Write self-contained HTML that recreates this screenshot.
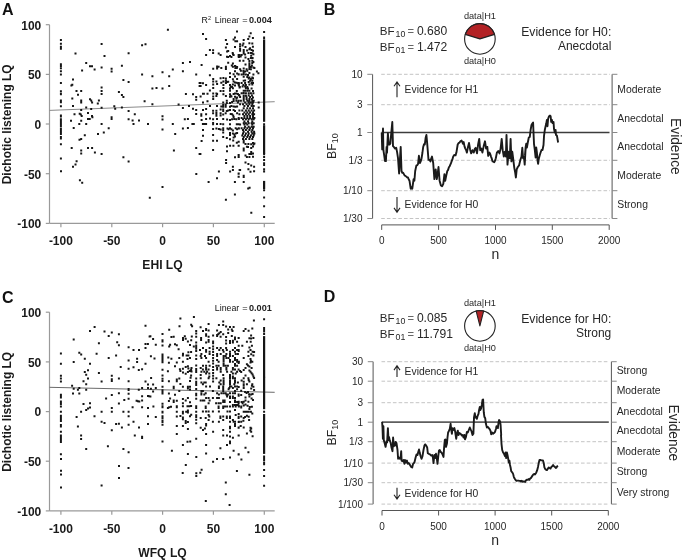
<!DOCTYPE html><html><head><meta charset="utf-8"><style>html,body{margin:0;padding:0;background:#fff;}svg{display:block;will-change:transform;filter:blur(0.3px);}</style></head><body><svg width="685" height="560" viewBox="0 0 685 560">
<rect width="685" height="560" fill="#fff"/>
<text x="2.0" y="15.1" font-size="16" font-weight="bold" fill="#111" font-family="Liberation Sans, sans-serif">A</text>
<line x1="49.5" y1="24.7" x2="49.5" y2="223.4" stroke="#9a9a9a" stroke-width="1.2"/>
<line x1="49.5" y1="223.4" x2="274.7" y2="223.4" stroke="#9a9a9a" stroke-width="1.2"/>
<line x1="45.8" y1="24.7" x2="49.5" y2="24.7" stroke="#9a9a9a" stroke-width="1.2"/>
<text x="41.3" y="29.6" font-size="12" font-weight="bold" text-anchor="end" fill="#1a1a1a" font-family="Liberation Sans, sans-serif">100</text>
<line x1="45.8" y1="74.4" x2="49.5" y2="74.4" stroke="#9a9a9a" stroke-width="1.2"/>
<text x="41.3" y="79.3" font-size="12" font-weight="bold" text-anchor="end" fill="#1a1a1a" font-family="Liberation Sans, sans-serif">50</text>
<line x1="45.8" y1="124.0" x2="49.5" y2="124.0" stroke="#9a9a9a" stroke-width="1.2"/>
<text x="41.3" y="128.9" font-size="12" font-weight="bold" text-anchor="end" fill="#1a1a1a" font-family="Liberation Sans, sans-serif">0</text>
<line x1="45.8" y1="173.7" x2="49.5" y2="173.7" stroke="#9a9a9a" stroke-width="1.2"/>
<text x="41.3" y="178.6" font-size="12" font-weight="bold" text-anchor="end" fill="#1a1a1a" font-family="Liberation Sans, sans-serif">-50</text>
<line x1="45.8" y1="223.4" x2="49.5" y2="223.4" stroke="#9a9a9a" stroke-width="1.2"/>
<text x="41.3" y="228.3" font-size="12" font-weight="bold" text-anchor="end" fill="#1a1a1a" font-family="Liberation Sans, sans-serif">-100</text>
<line x1="60.9" y1="223.4" x2="60.9" y2="227.2" stroke="#9a9a9a" stroke-width="1.2"/>
<text x="60.9" y="245.2" font-size="12" font-weight="bold" text-anchor="middle" fill="#1a1a1a" font-family="Liberation Sans, sans-serif">-100</text>
<line x1="111.8" y1="223.4" x2="111.8" y2="227.2" stroke="#9a9a9a" stroke-width="1.2"/>
<text x="111.8" y="245.2" font-size="12" font-weight="bold" text-anchor="middle" fill="#1a1a1a" font-family="Liberation Sans, sans-serif">-50</text>
<line x1="162.6" y1="223.4" x2="162.6" y2="227.2" stroke="#9a9a9a" stroke-width="1.2"/>
<text x="162.6" y="245.2" font-size="12" font-weight="bold" text-anchor="middle" fill="#1a1a1a" font-family="Liberation Sans, sans-serif">0</text>
<line x1="213.4" y1="223.4" x2="213.4" y2="227.2" stroke="#9a9a9a" stroke-width="1.2"/>
<text x="213.4" y="245.2" font-size="12" font-weight="bold" text-anchor="middle" fill="#1a1a1a" font-family="Liberation Sans, sans-serif">50</text>
<line x1="264.3" y1="223.4" x2="264.3" y2="227.2" stroke="#9a9a9a" stroke-width="1.2"/>
<text x="264.3" y="245.2" font-size="12" font-weight="bold" text-anchor="middle" fill="#1a1a1a" font-family="Liberation Sans, sans-serif">100</text>
<text x="162.5" y="268.7" font-size="12.1" font-weight="bold" text-anchor="middle" fill="#1a1a1a" font-family="Liberation Sans, sans-serif">EHI LQ</text>
<text transform="translate(10.8,124.3) rotate(-90)" font-size="12" font-weight="bold" text-anchor="middle" fill="#1a1a1a" font-family="Liberation Sans, sans-serif">Dichotic listening LQ</text>
<line x1="49.5" y1="110.4" x2="274.7" y2="101.7" stroke="#8a8a8a" stroke-width="1"/>
<path d="M59.9 40.0h2M59.9 43.7h2M59.9 46.8h2M59.9 48.8h2M74.5 53.5h2M85.2 62.9h2M89.0 66.2h2M91.0 66.2h2M59.9 64.2h2M59.9 66.0h2M59.9 68.2h2M93.6 69.5h2M100.6 43.9h2M103.5 56.1h2M100.6 67.5h2M110.6 68.7h2M120.9 65.8h2M127.6 53.2h2M141.1 45.2h2M144.5 44.3h2M166.9 29.8h2M181.9 62.9h2M189.0 62.0h2M171.8 69.4h2M59.9 71.3h2M59.9 74.5h2M81.1 70.5h2M72.0 79.5h2M59.9 83.0h2M70.4 85.4h2M71.3 84.7h2M59.9 91.2h2M59.9 93.7h2M59.9 94.3h2M75.5 91.1h2M80.2 91.1h2M77.0 94.8h2M71.3 98.4h2M59.9 100.4h2M59.9 102.3h2M80.2 100.5h2M80.2 102.6h2M89.0 99.2h2M90.2 100.4h2M91.1 102.6h2M97.9 100.4h2M96.8 103.5h2M59.9 106.2h2M72.0 106.1h2M85.2 107.5h2M90.2 108.9h2M80.2 110.0h2M59.9 115.5h2M59.9 116.4h2M73.5 114.2h2M78.7 113.8h2M79.8 114.6h2M80.7 116.0h2M87.0 112.9h2M91.0 116.0h2M91.4 117.3h2M87.0 118.9h2M88.7 119.1h2M59.9 119.3h2M110.6 71.6h2M141.1 74.5h2M122.4 80.0h2M127.6 82.0h2M100.6 87.6h2M100.6 91.0h2M100.6 93.9h2M117.9 92.0h2M120.9 95.0h2M122.4 97.0h2M143.6 101.2h2M100.6 107.7h2M113.3 106.2h2M114.2 108.8h2M120.9 107.5h2M127.6 111.1h2M133.8 114.2h2M110.6 117.3h2M110.6 118.9h2M127.6 119.3h2M161.5 72.2h2M181.9 71.3h2M195.2 74.5h2M151.4 76.2h2M168.2 76.2h2M198.6 83.0h2M198.6 86.1h2M151.4 88.5h2M155.5 88.0h2M161.5 88.5h2M168.2 85.9h2M184.9 93.9h2M192.0 94.3h2M195.2 97.0h2M195.2 99.7h2M151.4 104.2h2M177.6 104.4h2M188.0 106.0h2M181.9 108.1h2M192.0 108.8h2M195.2 109.9h2M195.2 114.1h2M161.5 116.2h2M161.5 119.5h2M183.8 119.3h2M186.9 118.9h2M70.0 120.7h2M80.2 120.7h2M59.9 120.5h2M59.9 122.2h2M59.9 123.8h2M59.9 125.2h2M59.9 126.2h2M59.9 128.8h2M59.9 129.4h2M59.9 131.4h2M59.9 133.4h2M59.9 134.0h2M59.9 137.0h2M59.9 137.9h2M59.9 138.5h2M59.9 144.3h2M59.9 158.6h2M78.3 124.0h2M85.2 124.0h2M72.7 128.0h2M97.0 134.0h2M83.8 135.2h2M78.5 139.8h2M80.2 138.9h2M70.7 147.9h2M87.0 147.9h2M91.1 147.9h2M80.2 150.4h2M80.2 153.5h2M93.9 152.6h2M75.6 161.2h2M74.5 164.6h2M72.0 166.7h2M131.6 120.5h2M138.0 120.5h2M100.6 124.0h2M132.5 124.0h2M147.0 124.0h2M107.7 128.2h2M102.8 132.5h2M100.6 153.9h2M122.4 157.3h2M127.6 161.5h2M171.8 124.0h2M191.4 124.0h2M192.8 124.0h2M161.5 129.4h2M181.9 128.5h2M186.9 128.0h2M174.2 134.0h2M172.9 150.4h2M195.2 147.9h2M198.6 153.9h2M60.0 171.3h2M78.9 180.2h2M81.2 182.8h2M148.8 197.7h2M161.5 186.9h2M195.3 173.9h2M202.0 34.1h2M205.1 39.1h2M236.0 31.4h2M234.0 37.5h2M232.6 39.4h2M234.4 41.3h2M236.1 41.3h2M224.9 40.0h2M226.1 43.9h2M224.9 47.5h2M234.0 46.9h2M208.9 49.9h2M212.1 50.2h2M212.1 52.9h2M205.1 55.0h2M217.7 53.6h2M219.6 55.1h2M226.1 51.4h2M227.2 50.9h2M231.7 52.9h2M232.0 54.3h2M232.6 54.9h2M226.0 56.8h2M227.2 57.0h2M229.0 56.1h2M230.4 57.1h2M237.6 55.0h2M237.9 57.1h2M263.1 32.0h2M263.1 38.0h2M249.7 33.2h2M248.4 36.6h2M247.2 38.9h2M251.9 38.0h2M242.7 40.0h2M239.1 44.3h2M239.0 46.4h2M239.1 48.9h2M239.1 50.7h2M242.4 43.4h2M241.6 45.4h2M248.4 43.2h2M251.3 43.6h2M244.5 47.1h2M251.9 46.8h2M249.1 48.2h2M248.4 49.3h2M246.1 50.4h2M242.7 50.0h2M242.7 51.8h2M242.7 53.6h2M250.6 50.0h2M252.0 50.7h2M247.4 52.9h2M249.9 52.9h2M251.3 53.2h2M252.4 54.3h2M244.1 54.6h2M238.4 55.0h2M237.6 56.4h2M240.6 55.0h2M239.7 56.4h2M244.5 57.5h2M250.2 55.7h2M249.9 57.9h2M251.6 57.9h2M247.4 58.9h2M200.6 64.9h2M227.2 62.7h2M231.9 63.6h2M230.8 65.4h2M231.9 66.8h2M234.0 66.1h2M235.1 66.8h2M236.1 67.1h2M234.4 67.9h2M235.8 67.9h2M216.1 66.6h2M217.6 66.8h2M216.1 68.6h2M220.3 68.0h2M212.2 68.7h2M224.9 66.8h2M224.9 67.9h2M224.9 69.1h2M234.0 71.3h2M229.0 73.2h2M232.6 74.3h2M236.1 73.6h2M237.6 74.6h2M208.9 75.2h2M229.0 77.0h2M234.0 76.4h2M212.2 78.9h2M219.6 78.2h2M222.4 77.9h2M224.9 78.6h2M231.9 79.3h2M236.1 78.9h2M212.2 81.4h2M215.4 81.4h2M220.3 82.7h2M222.4 81.4h2M224.9 80.7h2M225.8 82.1h2M227.2 81.8h2M224.9 82.9h2M232.6 81.4h2M234.0 82.5h2M235.4 82.7h2M236.9 83.2h2M237.9 83.6h2M199.6 82.9h2M202.0 83.2h2M199.6 86.1h2M205.1 85.1h2M216.1 83.9h2M212.2 84.6h2M222.4 85.1h2M229.0 85.1h2M231.9 84.6h2M234.0 85.4h2M237.9 85.4h2M229.7 86.4h2M231.1 87.1h2M212.2 87.9h2M222.4 87.9h2M231.9 88.2h2M229.0 88.6h2M238.6 87.5h2M208.9 90.4h2M219.6 90.9h2M222.4 90.9h2M229.0 90.7h2M235.8 90.9h2M202.0 93.7h2M202.9 93.7h2M206.5 93.7h2M212.2 93.6h2M215.4 93.6h2M216.1 94.1h2M222.4 94.3h2M229.0 94.3h2M229.7 95.7h2M232.6 94.1h2M234.0 93.6h2M235.4 93.6h2M236.9 94.1h2M237.9 95.0h2M199.6 96.6h2M212.2 96.6h2M215.4 96.1h2M224.9 96.1h2M229.0 96.8h2M230.4 96.4h2M234.0 96.8h2M236.1 97.5h2M212.2 98.9h2M232.6 98.9h2M235.4 98.6h2M238.8 60.7h2M242.4 60.7h2M248.4 61.1h2M251.3 60.7h2M248.4 63.2h2M251.3 62.9h2M252.4 62.1h2M244.5 64.6h2M248.4 65.0h2M250.9 65.4h2M248.4 67.1h2M249.9 67.1h2M252.4 67.5h2M253.4 67.9h2M239.1 69.3h2M242.7 68.6h2M245.6 69.3h2M248.4 68.9h2M249.9 69.3h2M239.9 70.7h2M242.4 71.1h2M244.1 71.4h2M246.3 70.7h2M255.9 71.4h2M242.7 72.5h2M248.4 72.9h2M257.4 73.2h2M237.7 74.3h2M240.6 74.6h2M242.7 74.3h2M244.9 74.6h2M247.0 75.0h2M252.4 74.6h2M242.7 76.8h2M246.3 77.1h2M248.4 77.5h2M251.3 77.5h2M247.7 78.6h2M249.9 78.9h2M252.0 78.2h2M242.7 80.7h2M244.1 80.4h2M249.1 80.7h2M251.3 80.7h2M237.7 82.9h2M240.6 82.9h2M244.1 82.9h2M247.7 82.1h2M250.6 82.9h2M252.0 82.9h2M237.7 84.6h2M242.4 85.0h2M244.9 85.0h2M248.4 84.6h2M251.3 84.6h2M238.8 87.1h2M241.6 86.4h2M244.1 86.4h2M246.3 87.1h2M244.9 88.2h2M247.0 88.6h2M250.6 88.6h2M242.7 90.7h2M244.1 90.7h2M246.3 90.7h2M248.4 90.7h2M252.0 91.1h2M240.6 93.2h2M242.7 92.9h2M244.9 93.2h2M247.7 93.2h2M249.9 93.2h2M252.4 93.2h2M238.4 95.4h2M242.7 95.4h2M244.9 95.7h2M247.7 95.4h2M250.9 95.4h2M239.1 97.1h2M242.7 97.1h2M245.6 97.5h2M249.1 97.1h2M252.0 97.5h2M242.7 98.9h2M245.6 98.9h2M248.4 98.9h2M250.9 98.9h2M202.0 102.5h2M206.5 101.3h2M222.2 102.5h2M225.8 100.7h2M225.8 102.9h2M229.0 102.9h2M231.1 102.1h2M232.6 101.1h2M235.4 100.7h2M236.9 102.5h2M209.0 106.1h2M216.0 106.1h2M220.3 106.4h2M222.2 105.0h2M222.2 106.8h2M224.7 105.0h2M224.7 106.8h2M229.0 106.8h2M230.4 106.1h2M232.6 106.4h2M234.4 106.8h2M236.1 106.4h2M202.0 109.9h2M205.1 108.9h2M212.1 110.7h2M215.4 110.7h2M219.6 109.6h2M222.2 109.6h2M222.2 111.1h2M225.8 111.1h2M227.2 110.4h2M229.0 110.0h2M232.6 110.0h2M234.0 111.1h2M212.1 113.2h2M215.4 112.9h2M215.4 114.3h2M215.4 115.7h2M205.1 114.3h2M200.3 114.3h2M200.3 115.7h2M219.6 113.2h2M219.6 115.4h2M222.2 114.6h2M224.7 113.2h2M229.7 113.9h2M231.1 114.3h2M232.2 115.4h2M232.6 117.1h2M236.1 113.2h2M205.1 118.9h2M209.0 118.4h2M200.6 120.1h2M212.1 119.3h2M216.0 118.9h2M222.2 118.9h2M226.1 119.6h2M229.0 120.0h2M231.1 119.3h2M233.3 118.9h2M235.4 119.3h2M237.9 118.9h2M201.9 123.9h2M203.3 123.9h2M205.1 123.9h2M212.1 122.9h2M212.1 124.3h2M216.0 123.9h2M219.6 123.9h2M222.2 124.3h2M229.0 124.3h2M235.8 124.3h2M237.6 124.3h2M212.1 128.9h2M215.4 128.6h2M217.9 128.9h2M219.6 129.6h2M222.2 128.2h2M222.2 130.0h2M226.5 128.6h2M227.6 129.3h2M229.0 128.2h2M230.4 129.3h2M231.9 130.4h2M234.7 128.2h2M236.1 129.3h2M237.9 128.6h2M202.0 129.9h2M222.2 132.5h2M229.0 132.9h2M229.0 135.0h2M231.9 133.6h2M233.3 134.6h2M234.7 133.6h2M236.1 132.9h2M202.0 135.7h2M212.1 135.1h2M222.2 137.1h2M225.8 138.0h2M229.0 139.3h2M232.6 137.5h2M234.0 136.4h2M237.7 100.7h2M239.9 100.7h2M242.7 100.7h2M246.3 100.7h2M248.4 100.7h2M251.3 100.7h2M252.7 100.7h2M244.1 102.5h2M247.7 102.5h2M249.9 102.5h2M252.0 102.5h2M257.7 102.5h2M239.1 104.3h2M242.0 104.3h2M245.6 104.3h2M248.4 104.3h2M251.3 104.3h2M243.4 106.1h2M247.0 106.1h2M250.6 106.1h2M252.7 106.1h2M257.7 107.5h2M242.7 108.2h2M246.3 108.2h2M249.1 108.2h2M252.0 108.2h2M238.4 110.4h2M241.3 110.4h2M244.9 110.4h2M247.7 110.4h2M250.6 110.4h2M253.1 110.4h2M243.4 112.5h2M246.3 112.5h2M249.1 112.5h2M252.0 112.5h2M238.4 114.3h2M242.0 114.3h2M244.9 114.3h2M247.7 114.3h2M251.3 114.3h2M253.1 114.3h2M243.4 116.1h2M246.3 116.1h2M249.1 116.1h2M252.0 116.1h2M237.7 117.9h2M240.6 117.9h2M243.4 117.9h2M246.3 117.9h2M249.1 117.9h2M252.0 117.9h2M253.4 117.9h2M242.0 119.3h2M244.9 119.3h2M247.7 119.3h2M250.6 119.3h2M252.7 119.3h2M243.4 121.4h2M247.0 121.4h2M251.3 121.4h2M242.7 123.2h2M244.9 123.2h2M247.7 123.2h2M250.6 123.2h2M252.7 123.2h2M239.1 124.6h2M243.4 124.6h2M246.3 124.6h2M251.3 124.6h2M244.1 126.8h2M247.7 126.8h2M250.6 126.8h2M252.7 126.8h2M237.7 128.2h2M240.6 128.2h2M243.4 128.2h2M246.3 128.2h2M249.1 128.2h2M252.0 128.2h2M242.0 130.0h2M244.9 130.0h2M248.4 130.0h2M251.3 130.0h2M242.7 131.8h2M247.0 131.8h2M250.6 131.8h2M253.1 131.8h2M242.0 133.6h2M244.9 133.6h2M247.7 133.6h2M251.3 133.6h2M253.4 133.6h2M241.3 135.4h2M244.1 135.4h2M247.0 135.4h2M249.9 135.4h2M252.7 135.4h2M242.7 137.1h2M246.3 137.1h2M249.1 137.1h2M252.0 137.1h2M242.0 138.9h2M244.9 138.9h2M248.4 138.9h2M251.3 138.9h2M200.6 141.1h2M212.1 140.7h2M216.0 140.7h2M232.2 140.4h2M235.8 142.7h2M237.6 141.8h2M226.0 146.4h2M229.1 145.7h2M232.4 145.7h2M237.6 145.7h2M212.1 149.9h2M226.0 151.2h2M199.4 153.9h2M237.6 155.0h2M237.6 157.1h2M234.0 157.3h2M225.1 159.9h2M225.1 163.0h2M231.9 166.8h2M231.9 169.9h2M217.9 171.6h2M229.1 171.6h2M238.6 170.0h2M237.6 173.7h2M237.6 176.8h2M216.0 178.2h2M237.7 141.8h2M237.7 145.7h2M242.7 140.4h2M242.7 142.5h2M244.5 143.9h2M247.4 143.9h2M250.2 144.3h2M252.0 142.9h2M252.7 144.3h2M253.4 143.6h2M245.9 146.8h2M247.0 147.1h2M250.2 147.9h2M252.0 146.4h2M242.7 148.6h2M242.7 150.4h2M248.4 153.9h2M250.2 152.1h2M250.2 153.9h2M252.0 153.6h2M237.7 155.0h2M237.7 157.1h2M244.5 155.4h2M245.9 157.1h2M248.4 157.1h2M252.0 156.8h2M244.5 162.5h2M247.4 163.9h2M250.2 165.6h2M253.1 166.8h2M239.1 170.0h2M247.4 169.3h2M249.5 171.8h2M253.1 171.3h2M237.7 173.6h2M237.7 176.8h2M242.7 175.7h2M242.7 177.1h2M207.6 182.1h2M233.9 181.9h2M233.9 194.6h2M224.9 199.7h2M242.7 181.9h2M247.2 188.6h2M248.6 187.8h2M250.3 212.8h2M263.1 32.0h2M263.1 37.6h2M263.1 124.3h2M263.1 154.3h2M263.1 157.1h2M263.1 160.0h2M263.1 163.2h2M263.1 165.0h2M263.1 169.3h2M263.1 171.4h2M263.1 190.2h2M263.1 197.6h2M263.1 206.3h2M263.1 216.9h2" stroke="#151515" stroke-width="2" fill="none"/>
<rect x="263.0" y="39.4" width="2.2" height="82.4" fill="#151515"/>
<rect x="263.0" y="125.2" width="2.2" height="28.8" fill="#151515"/>
<rect x="263.0" y="180.9" width="2.2" height="8.1" fill="#151515"/>
<text x="201.4" y="23.4" font-size="8.8" fill="#111" font-family="Liberation Sans, sans-serif">R</text><text x="208.1" y="19.6" font-size="5.6" fill="#222" font-family="Liberation Sans, sans-serif">2</text><text x="214.8" y="23.4" font-size="8.8" fill="#111" font-family="Liberation Sans, sans-serif">Linear</text><text x="242.3" y="23.4" font-size="9.2" fill="#111" font-family="Liberation Sans, sans-serif">=</text><text x="271.8" y="23.4" font-size="9.1" font-weight="bold" text-anchor="end" fill="#222" font-family="Liberation Sans, sans-serif">0.004</text>
<text x="2.0" y="302.6" font-size="16" font-weight="bold" fill="#111" font-family="Liberation Sans, sans-serif">C</text>
<line x1="49.5" y1="312.2" x2="49.5" y2="510.9" stroke="#9a9a9a" stroke-width="1.2"/>
<line x1="49.5" y1="510.9" x2="274.7" y2="510.9" stroke="#9a9a9a" stroke-width="1.2"/>
<line x1="45.8" y1="312.2" x2="49.5" y2="312.2" stroke="#9a9a9a" stroke-width="1.2"/>
<text x="41.3" y="317.1" font-size="12" font-weight="bold" text-anchor="end" fill="#1a1a1a" font-family="Liberation Sans, sans-serif">100</text>
<line x1="45.8" y1="361.9" x2="49.5" y2="361.9" stroke="#9a9a9a" stroke-width="1.2"/>
<text x="41.3" y="366.8" font-size="12" font-weight="bold" text-anchor="end" fill="#1a1a1a" font-family="Liberation Sans, sans-serif">50</text>
<line x1="45.8" y1="411.6" x2="49.5" y2="411.6" stroke="#9a9a9a" stroke-width="1.2"/>
<text x="41.3" y="416.4" font-size="12" font-weight="bold" text-anchor="end" fill="#1a1a1a" font-family="Liberation Sans, sans-serif">0</text>
<line x1="45.8" y1="461.2" x2="49.5" y2="461.2" stroke="#9a9a9a" stroke-width="1.2"/>
<text x="41.3" y="466.1" font-size="12" font-weight="bold" text-anchor="end" fill="#1a1a1a" font-family="Liberation Sans, sans-serif">-50</text>
<line x1="45.8" y1="510.9" x2="49.5" y2="510.9" stroke="#9a9a9a" stroke-width="1.2"/>
<text x="41.3" y="515.8" font-size="12" font-weight="bold" text-anchor="end" fill="#1a1a1a" font-family="Liberation Sans, sans-serif">-100</text>
<line x1="60.9" y1="510.9" x2="60.9" y2="514.7" stroke="#9a9a9a" stroke-width="1.2"/>
<text x="60.9" y="532.7" font-size="12" font-weight="bold" text-anchor="middle" fill="#1a1a1a" font-family="Liberation Sans, sans-serif">-100</text>
<line x1="111.8" y1="510.9" x2="111.8" y2="514.7" stroke="#9a9a9a" stroke-width="1.2"/>
<text x="111.8" y="532.7" font-size="12" font-weight="bold" text-anchor="middle" fill="#1a1a1a" font-family="Liberation Sans, sans-serif">-50</text>
<line x1="162.6" y1="510.9" x2="162.6" y2="514.7" stroke="#9a9a9a" stroke-width="1.2"/>
<text x="162.6" y="532.7" font-size="12" font-weight="bold" text-anchor="middle" fill="#1a1a1a" font-family="Liberation Sans, sans-serif">0</text>
<line x1="213.4" y1="510.9" x2="213.4" y2="514.7" stroke="#9a9a9a" stroke-width="1.2"/>
<text x="213.4" y="532.7" font-size="12" font-weight="bold" text-anchor="middle" fill="#1a1a1a" font-family="Liberation Sans, sans-serif">50</text>
<line x1="264.3" y1="510.9" x2="264.3" y2="514.7" stroke="#9a9a9a" stroke-width="1.2"/>
<text x="264.3" y="532.7" font-size="12" font-weight="bold" text-anchor="middle" fill="#1a1a1a" font-family="Liberation Sans, sans-serif">100</text>
<text x="162.5" y="556.8" font-size="12.1" font-weight="bold" text-anchor="middle" fill="#1a1a1a" font-family="Liberation Sans, sans-serif">WFQ LQ</text>
<text transform="translate(10.8,411.8) rotate(-90)" font-size="12" font-weight="bold" text-anchor="middle" fill="#1a1a1a" font-family="Liberation Sans, sans-serif">Dichotic listening LQ</text>
<line x1="49.5" y1="387.3" x2="274.7" y2="392.3" stroke="#6a6a6a" stroke-width="1"/>
<path d="M93.6 327.1h2M89.0 330.9h2M72.7 339.4h2M97.9 343.2h2M59.9 353.5h2M78.3 352.8h2M80.2 354.4h2M95.6 353.7h2M144.5 325.7h2M103.5 331.5h2M110.8 332.4h2M107.7 336.1h2M117.9 334.2h2M148.6 336.4h2M116.2 342.3h2M117.9 345.2h2M127.6 347.2h2M132.5 350.1h2M138.0 349.9h2M144.5 348.1h2M144.5 344.0h2M146.9 344.0h2M179.4 318.6h2M192.9 316.9h2M178.5 326.2h2M190.2 324.8h2M191.1 326.2h2M168.2 329.7h2M161.5 334.0h2M149.4 336.2h2M152.1 338.9h2M170.4 337.1h2M172.7 336.7h2M182.0 337.9h2M182.0 340.1h2M183.8 336.2h2M184.7 338.8h2M186.9 341.6h2M190.8 336.4h2M190.2 340.3h2M195.2 331.1h2M195.2 333.6h2M195.2 336.7h2M195.2 342.5h2M161.5 340.3h2M161.5 341.6h2M154.8 344.7h2M161.5 345.6h2M168.2 346.5h2M169.1 344.7h2M174.0 344.3h2M175.8 345.2h2M177.6 349.2h2M189.0 345.0h2M192.8 346.5h2M195.2 345.6h2M195.2 347.4h2M195.2 348.8h2M195.2 351.0h2M182.0 353.7h2M187.4 352.3h2M190.1 351.9h2M161.5 354.6h2M222.2 321.4h2M207.6 323.9h2M217.9 325.1h2M222.2 325.1h2M225.1 326.4h2M199.6 327.3h2M202.0 331.1h2M205.1 328.9h2M205.1 330.1h2M207.6 330.4h2M216.1 330.6h2M219.7 332.1h2M218.3 333.2h2M217.2 334.3h2M216.1 335.0h2M216.1 336.1h2M222.2 334.3h2M219.6 336.8h2M229.0 327.1h2M232.6 327.1h2M227.2 329.6h2M230.8 329.6h2M231.5 331.1h2M227.2 332.9h2M205.1 334.3h2M205.1 335.7h2M207.6 336.8h2M212.1 335.6h2M225.1 337.1h2M230.8 336.1h2M234.0 337.5h2M237.6 337.9h2M200.1 337.9h2M200.1 340.0h2M207.6 340.0h2M207.6 341.8h2M205.1 342.5h2M212.1 341.4h2M212.1 343.2h2M225.1 340.6h2M225.1 343.6h2M229.0 341.1h2M229.0 342.9h2M231.9 340.7h2M231.9 342.5h2M234.0 339.3h2M236.1 341.8h2M252.9 320.6h2M251.3 328.6h2M242.7 330.9h2M244.5 328.9h2M247.6 330.7h2M250.1 335.4h2M248.4 338.2h2M250.1 338.4h2M252.4 338.0h2M237.7 337.9h2M245.9 341.8h2M249.7 341.8h2M83.8 358.8h2M72.7 361.9h2M59.9 363.7h2M89.0 363.7h2M87.0 370.2h2M83.8 372.0h2M85.2 374.8h2M87.0 378.4h2M97.9 372.9h2M59.9 375.7h2M59.9 378.4h2M59.9 381.6h2M82.5 381.3h2M85.2 384.3h2M71.1 385.8h2M72.7 388.7h2M76.9 389.8h2M78.3 387.9h2M85.2 389.8h2M72.0 393.6h2M78.3 393.6h2M59.9 394.7h2M59.9 396.1h2M59.9 397.4h2M59.9 401.4h2M59.9 402.8h2M59.9 403.9h2M82.5 403.9h2M89.0 403.2h2M115.1 355.4h2M107.7 357.9h2M127.6 360.4h2M136.1 358.8h2M136.1 362.1h2M144.5 363.8h2M119.7 366.9h2M127.6 368.8h2M132.5 367.3h2M137.8 370.0h2M141.1 369.3h2M110.8 375.8h2M110.8 379.3h2M110.8 380.9h2M117.9 378.4h2M100.6 381.6h2M127.6 381.3h2M144.5 381.6h2M147.0 384.5h2M127.6 388.9h2M127.6 390.0h2M137.8 389.8h2M141.1 387.9h2M147.0 387.9h2M110.8 395.0h2M117.9 393.2h2M127.6 393.7h2M105.1 398.6h2M123.3 399.9h2M127.6 398.8h2M141.1 396.2h2M141.1 400.4h2M147.0 395.9h2M148.1 396.2h2M135.6 400.7h2M136.9 401.2h2M138.3 401.4h2M117.9 403.4h2M149.9 356.3h2M153.5 358.4h2M161.5 355.9h2M161.5 357.2h2M161.5 358.6h2M161.5 359.9h2M161.5 361.2h2M161.5 362.3h2M167.3 357.5h2M170.4 358.8h2M178.3 358.1h2M181.9 355.4h2M185.6 355.4h2M187.4 355.4h2M186.5 359.0h2M189.0 357.9h2M195.2 359.0h2M195.2 355.4h2M167.9 362.8h2M175.8 362.6h2M181.9 361.7h2M174.0 366.3h2M195.2 365.4h2M161.5 369.7h2M166.9 371.2h2M178.9 369.3h2M179.4 371.1h2M181.9 368.8h2M184.7 367.1h2M186.9 366.2h2M187.4 368.4h2M190.5 367.9h2M190.1 369.7h2M182.0 372.4h2M184.7 373.8h2M186.9 372.0h2M188.7 371.1h2M190.5 371.5h2M195.2 369.1h2M195.2 370.6h2M195.2 372.0h2M161.5 375.4h2M161.5 378.7h2M161.5 380.9h2M150.1 378.0h2M167.9 381.3h2M175.8 379.6h2M175.8 381.3h2M178.3 378.4h2M190.1 375.5h2M189.6 377.8h2M189.0 380.9h2M195.2 378.4h2M195.2 381.8h2M195.2 383.1h2M195.2 384.9h2M152.1 384.5h2M179.4 384.0h2M181.9 386.7h2M161.5 386.7h2M172.7 386.7h2M172.7 388.2h2M186.9 386.7h2M189.0 386.7h2M186.9 388.5h2M149.9 388.8h2M154.8 387.9h2M152.1 391.4h2M161.5 390.3h2M161.5 391.6h2M161.5 393.4h2M178.3 391.0h2M189.0 389.6h2M195.2 388.9h2M167.9 393.6h2M174.0 394.7h2M195.2 393.8h2M195.2 395.2h2M149.4 396.5h2M169.1 398.5h2M167.9 401.0h2M172.7 400.5h2M172.7 401.9h2M175.8 400.7h2M181.9 398.9h2M184.7 400.5h2M186.9 398.0h2M181.9 403.2h2M189.0 402.3h2M195.2 398.8h2M161.5 403.7h2M202.0 347.9h2M208.6 347.9h2M216.1 347.9h2M219.7 347.9h2M225.1 347.9h2M234.0 347.9h2M199.0 350.0h2M205.1 350.0h2M218.3 350.0h2M221.9 350.0h2M225.8 350.0h2M231.9 350.0h2M236.1 350.0h2M205.1 351.8h2M208.6 351.8h2M222.6 351.8h2M229.0 351.8h2M234.0 351.8h2M200.4 353.9h2M208.6 353.9h2M216.1 353.9h2M219.7 353.9h2M225.4 353.9h2M229.0 353.9h2M234.7 353.9h2M236.9 353.9h2M199.7 356.1h2M204.0 356.1h2M216.1 356.1h2M222.6 356.1h2M224.7 356.1h2M229.0 356.1h2M231.9 356.1h2M200.4 357.9h2M205.1 357.9h2M222.6 357.9h2M225.4 357.9h2M227.6 357.9h2M234.0 357.9h2M216.1 360.0h2M222.6 360.0h2M229.0 360.0h2M234.0 360.0h2M236.1 360.0h2M207.6 361.8h2M217.6 361.8h2M222.6 361.8h2M229.0 361.8h2M231.9 361.8h2M236.1 361.8h2M237.9 361.8h2M222.6 363.9h2M234.0 363.9h2M202.0 365.7h2M205.1 365.7h2M208.6 365.7h2M215.4 365.7h2M217.6 365.7h2M222.6 365.7h2M224.7 365.7h2M226.9 365.7h2M234.0 365.7h2M236.1 365.7h2M199.7 367.9h2M205.1 367.9h2M216.1 367.9h2M219.7 367.9h2M225.4 367.9h2M231.9 367.9h2M201.9 369.6h2M205.1 369.6h2M207.6 369.6h2M216.1 369.6h2M219.7 369.6h2M225.4 369.6h2M231.9 369.6h2M234.0 369.6h2M237.6 369.6h2M200.4 371.8h2M203.3 371.8h2M206.1 371.8h2M219.7 371.8h2M226.1 371.8h2M230.4 371.8h2M236.1 371.8h2M205.1 373.6h2M208.3 373.6h2M231.9 373.6h2M234.7 373.6h2M199.7 375.0h2M222.2 375.0h2M229.0 375.0h2M208.3 376.4h2M229.0 376.4h2M231.9 376.4h2M199.7 378.2h2M207.6 378.2h2M215.4 378.2h2M222.6 378.2h2M229.0 378.2h2M231.9 378.2h2M234.0 378.2h2M219.7 380.4h2M222.6 380.4h2M229.0 380.4h2M234.0 380.4h2M200.4 382.5h2M203.3 382.5h2M204.7 382.5h2M218.3 382.5h2M222.6 382.5h2M229.0 382.5h2M234.0 382.5h2M236.9 382.5h2M201.9 384.3h2M219.7 384.3h2M222.6 384.3h2M229.0 384.3h2M233.3 384.3h2M212.1 346.4h2M212.1 349.3h2M212.1 352.1h2M212.1 355.0h2M212.1 357.9h2M212.1 360.7h2M212.1 363.6h2M212.1 367.1h2M212.1 370.0h2M212.1 372.9h2M212.1 375.7h2M212.1 378.6h2M212.1 381.4h2M237.7 345.7h2M241.3 345.7h2M250.9 345.7h2M248.4 347.5h2M237.7 350.0h2M237.7 351.1h2M249.5 350.0h2M247.4 351.8h2M251.6 351.8h2M253.1 352.1h2M250.2 354.3h2M252.4 355.4h2M247.4 356.1h2M242.7 357.9h2M249.5 358.9h2M249.9 360.7h2M251.3 361.8h2M249.5 362.5h2M237.7 362.9h2M245.9 364.3h2M247.0 365.4h2M248.4 366.4h2M250.6 367.9h2M244.5 367.9h2M242.7 370.0h2M239.1 371.1h2M240.2 372.1h2M248.4 370.4h2M249.5 371.8h2M250.6 373.2h2M251.6 374.6h2M252.4 376.4h2M253.1 377.9h2M244.5 375.4h2M242.7 378.2h2M247.4 378.2h2M240.6 380.4h2M242.7 381.8h2M247.7 380.0h2M248.4 381.4h2M242.7 384.3h2M245.9 384.3h2M251.3 384.3h2M205.1 386.4h2M209.0 386.4h2M217.9 386.4h2M222.2 386.4h2M229.0 386.4h2M230.4 386.4h2M234.0 386.4h2M236.1 386.4h2M217.9 387.9h2M222.2 387.9h2M228.3 387.9h2M231.9 387.9h2M222.2 389.3h2M227.6 389.3h2M236.1 389.3h2M200.4 391.1h2M201.9 391.1h2M211.9 391.1h2M222.2 391.1h2M234.0 391.1h2M200.4 393.2h2M204.7 393.2h2M216.1 393.2h2M220.4 393.2h2M222.6 393.2h2M224.7 393.2h2M229.0 393.2h2M231.9 393.2h2M234.0 393.2h2M200.4 394.6h2M203.3 394.6h2M217.9 394.6h2M225.4 394.6h2M226.9 394.6h2M237.6 394.6h2M226.1 396.4h2M229.0 396.4h2M231.9 396.4h2M205.1 397.9h2M207.6 397.9h2M211.9 397.9h2M216.1 397.9h2M217.9 397.9h2M229.0 397.9h2M231.9 397.9h2M234.0 397.9h2M199.7 400.4h2M201.9 400.4h2M203.3 400.4h2M208.6 400.4h2M222.2 400.4h2M223.6 400.4h2M234.0 400.4h2M222.2 402.1h2M223.6 402.1h2M229.0 402.1h2M234.0 402.1h2M236.1 402.1h2M207.6 403.2h2M215.1 403.2h2M217.6 403.2h2M219.7 403.2h2M237.6 403.2h2M231.9 405.0h2M234.0 405.0h2M235.4 405.0h2M236.9 405.0h2M204.7 406.4h2M217.6 406.4h2M222.2 406.4h2M224.0 406.4h2M226.1 406.4h2M229.0 406.4h2M231.9 406.4h2M234.7 406.4h2M237.9 406.4h2M204.7 407.9h2M217.6 407.9h2M222.2 407.9h2M234.0 410.0h2M201.9 411.4h2M205.1 411.4h2M207.6 411.4h2M211.9 411.4h2M217.9 411.4h2M226.5 411.4h2M229.0 411.4h2M237.6 413.9h2M207.6 415.0h2M234.7 415.0h2M208.3 416.4h2M219.4 416.4h2M222.2 416.4h2M225.8 416.4h2M229.0 416.4h2M199.7 417.9h2M204.7 417.9h2M219.4 417.9h2M225.8 417.9h2M229.0 417.9h2M237.6 417.9h2M207.6 420.0h2M222.2 420.0h2M231.9 420.0h2M211.9 421.8h2M217.9 421.8h2M229.0 421.8h2M232.6 421.8h2M234.0 421.8h2M237.9 421.8h2M205.1 423.9h2M234.0 423.9h2M237.7 387.1h2M242.7 385.7h2M242.7 387.9h2M250.9 385.7h2M252.4 386.8h2M250.2 388.6h2M253.1 390.0h2M240.2 390.7h2M244.1 392.1h2M245.6 392.9h2M247.0 392.1h2M248.1 394.3h2M248.4 396.4h2M251.6 393.9h2M250.2 394.6h2M237.7 395.7h2M240.2 395.0h2M244.5 397.5h2M250.6 398.6h2M252.0 400.0h2M237.7 401.8h2M240.6 402.1h2M241.6 403.2h2M244.5 400.4h2M247.4 401.8h2M242.7 401.8h2M237.7 405.7h2M240.2 406.4h2M240.2 407.5h2M242.7 405.4h2M244.5 404.6h2M246.6 405.7h2M248.8 407.1h2M250.9 406.8h2M248.4 408.9h2M242.7 411.8h2M244.5 411.8h2M246.3 411.8h2M247.7 411.8h2M249.9 411.8h2M251.3 413.6h2M237.7 414.3h2M237.7 417.1h2M240.2 416.4h2M242.7 417.9h2M244.1 417.1h2M245.9 415.7h2M247.7 416.8h2M248.1 420.0h2M237.7 422.1h2M240.2 421.8h2M242.4 420.7h2M59.9 406.5h2M59.9 411.7h2M59.9 415.7h2M59.9 417.1h2M59.9 418.4h2M59.9 419.7h2M59.9 421.1h2M59.9 425.1h2M59.9 426.4h2M59.9 431.8h2M59.9 435.4h2M59.9 437.6h2M59.9 439.4h2M59.9 440.7h2M59.9 442.1h2M59.9 454.3h2M85.2 409.9h2M87.0 408.6h2M89.0 407.5h2M80.1 411.7h2M75.6 416.9h2M93.5 416.2h2M76.9 426.6h2M80.1 435.5h2M80.1 438.9h2M85.2 449.0h2M110.8 407.9h2M131.6 407.2h2M141.1 407.2h2M147.0 408.1h2M100.6 411.7h2M110.8 411.7h2M122.4 411.7h2M127.6 411.7h2M127.6 416.2h2M147.0 416.2h2M100.6 421.7h2M103.5 422.9h2M115.1 423.9h2M117.9 423.8h2M127.6 424.8h2M132.5 421.7h2M147.0 424.0h2M120.9 427.5h2M138.0 427.5h2M110.8 430.2h2M133.8 435.5h2M141.1 436.7h2M141.1 437.9h2M106.9 446.2h2M122.4 449.0h2M127.6 452.3h2M152.4 406.6h2M161.5 406.3h2M161.5 407.2h2M166.9 408.1h2M168.2 407.2h2M170.0 406.8h2M175.8 406.3h2M175.8 407.2h2M181.9 406.3h2M186.5 406.3h2M188.3 406.3h2M190.1 405.9h2M195.2 406.3h2M195.2 408.1h2M161.5 411.7h2M161.5 412.6h2M175.8 411.7h2M181.9 411.7h2M181.9 413.5h2M185.2 411.7h2M186.9 410.4h2M186.9 412.6h2M195.2 411.7h2M154.8 416.9h2M161.5 416.2h2M161.5 417.5h2M161.5 418.4h2M161.5 421.1h2M161.5 422.0h2M161.5 424.8h2M175.8 416.4h2M179.4 415.9h2M181.9 417.5h2M181.9 419.3h2M189.0 416.2h2M190.2 414.8h2M195.2 415.3h2M195.2 417.1h2M195.2 419.7h2M195.2 423.3h2M184.7 421.1h2M184.7 422.9h2M186.9 422.0h2M175.8 426.0h2M181.9 426.0h2M186.9 429.1h2M175.8 434.0h2M195.2 438.8h2M161.5 441.6h2M186.5 441.8h2M189.2 441.6h2M181.9 445.0h2M170.9 450.8h2M186.9 454.1h2M199.7 427.7h2M202.0 429.9h2M203.9 428.4h2M205.1 425.4h2M234.0 425.9h2M229.0 426.8h2M229.0 428.2h2M237.6 427.7h2M222.2 429.9h2M212.1 431.8h2M229.0 431.8h2M205.1 433.9h2M222.2 435.5h2M226.0 435.5h2M229.0 436.6h2M231.9 437.7h2M237.6 435.5h2M229.0 441.6h2M229.0 443.2h2M226.0 445.0h2M205.1 445.0h2M219.4 448.2h2M232.6 450.7h2M205.1 453.4h2M237.6 454.4h2M229.0 457.6h2M216.0 458.9h2M222.2 458.9h2M212.1 461.8h2M237.7 427.5h2M239.7 426.1h2M242.7 427.5h2M249.5 427.7h2M250.2 428.4h2M249.3 430.6h2M250.2 431.8h2M245.9 433.4h2M237.7 435.6h2M251.6 436.3h2M244.5 447.7h2M247.4 452.3h2M237.7 454.3h2M240.4 459.5h2M60.0 459.1h2M60.0 470.8h2M60.0 474.6h2M60.0 487.6h2M100.6 485.6h2M118.0 466.0h2M127.5 468.0h2M118.0 477.9h2M195.3 457.0h2M184.8 464.9h2M181.7 473.1h2M195.3 473.3h2M195.3 475.9h2M199.3 472.8h2M200.6 469.8h2M204.8 501.0h2M224.8 482.5h2M224.8 494.2h2M228.6 504.9h2M235.9 470.9h2M248.4 474.7h2M263.1 319.3h2M263.1 327.9h2M263.1 329.6h2M263.1 331.4h2M263.1 333.9h2M263.1 411.8h2M263.1 456.4h2M263.1 458.5h2M263.1 460.5h2M263.1 462.9h2M263.1 464.2h2M263.1 470.0h2M263.1 475.9h2M263.1 485.7h2" stroke="#151515" stroke-width="2" fill="none"/>
<rect x="263.0" y="336.1" width="2.2" height="41.3" fill="#151515"/>
<rect x="263.0" y="376.9" width="2.2" height="32.3" fill="#151515"/>
<rect x="263.0" y="414.0" width="2.2" height="39.9" fill="#151515"/>
<text x="214.8" y="310.7" font-size="8.8" fill="#111" font-family="Liberation Sans, sans-serif">Linear</text><text x="242.3" y="310.7" font-size="9.2" fill="#111" font-family="Liberation Sans, sans-serif">=</text><text x="271.8" y="310.7" font-size="9.1" font-weight="bold" text-anchor="end" fill="#222" font-family="Liberation Sans, sans-serif">0.001</text>
<text x="323.7" y="15.1" font-size="16" font-weight="bold" fill="#111" font-family="Liberation Sans, sans-serif">B</text>
<text x="379.8" y="34.6" font-size="11.6" fill="#272727" font-family="Liberation Sans, sans-serif">BF</text>
<text x="395.5" y="36.6" font-size="8.8" fill="#272727" font-family="Liberation Sans, sans-serif">10</text>
<text x="407.5" y="34.6" font-size="11.2" fill="#666" font-family="Liberation Sans, sans-serif">=</text>
<text x="416.9" y="34.6" font-size="12.1" fill="#272727" font-family="Liberation Sans, sans-serif">0.680</text>
<text x="379.8" y="50.9" font-size="11.6" fill="#272727" font-family="Liberation Sans, sans-serif">BF</text>
<text x="395.5" y="52.9" font-size="8.8" fill="#272727" font-family="Liberation Sans, sans-serif">01</text>
<text x="407.5" y="50.9" font-size="11.2" fill="#666" font-family="Liberation Sans, sans-serif">=</text>
<text x="416.9" y="50.9" font-size="12.1" fill="#272727" font-family="Liberation Sans, sans-serif">1.472</text>
<circle cx="479.9" cy="38.90" r="15.3" fill="#fff" stroke="#222" stroke-width="1.1"/>
<path d="M479.9 38.90L465.28 34.39A15.3 15.3 0 0 1 494.52 34.39Z" fill="#b32225" stroke="#222" stroke-width="1.1" stroke-linejoin="round"/>
<text x="479.9" y="18.6" font-size="9.2" text-anchor="middle" fill="#272727" font-family="Liberation Sans, sans-serif">data|H1</text>
<text x="479.9" y="63.8" font-size="9.2" text-anchor="middle" fill="#272727" font-family="Liberation Sans, sans-serif">data|H0</text>
<text x="611.3" y="35.6" font-size="12.2" text-anchor="end" fill="#272727" font-family="Liberation Sans, sans-serif">Evidence for H0:</text>
<text x="611.3" y="50.0" font-size="12.0" text-anchor="end" fill="#272727" font-family="Liberation Sans, sans-serif">Anecdotal</text>
<line x1="372.6" y1="74.3" x2="372.6" y2="218.5" stroke="#555" stroke-width="1"/>
<line x1="612.1" y1="74.3" x2="612.1" y2="218.5" stroke="#555" stroke-width="1"/>
<line x1="367.3" y1="74.3" x2="372.6" y2="74.3" stroke="#888" stroke-width="1"/>
<line x1="612.1" y1="74.3" x2="617.4" y2="74.3" stroke="#888" stroke-width="1"/>
<text x="362.5" y="77.9" font-size="10" text-anchor="end" fill="#272727" font-family="Liberation Sans, sans-serif">10</text>
<line x1="381.2" y1="74.3" x2="609.9" y2="74.3" stroke="#c4c4c4" stroke-width="1" stroke-dasharray="3.6 2.1"/>
<line x1="367.3" y1="104.7" x2="372.6" y2="104.7" stroke="#888" stroke-width="1"/>
<line x1="612.1" y1="104.7" x2="617.4" y2="104.7" stroke="#888" stroke-width="1"/>
<text x="362.5" y="108.3" font-size="10" text-anchor="end" fill="#272727" font-family="Liberation Sans, sans-serif">3</text>
<line x1="381.2" y1="104.7" x2="609.9" y2="104.7" stroke="#c4c4c4" stroke-width="1" stroke-dasharray="3.6 2.1"/>
<line x1="367.3" y1="132.5" x2="372.6" y2="132.5" stroke="#888" stroke-width="1"/>
<line x1="612.1" y1="132.5" x2="617.4" y2="132.5" stroke="#888" stroke-width="1"/>
<text x="362.5" y="136.1" font-size="10" text-anchor="end" fill="#272727" font-family="Liberation Sans, sans-serif">1</text>
<line x1="381.5" y1="132.50" x2="609.5" y2="132.50" stroke="#3c3c3c" stroke-width="1.4"/>
<line x1="367.3" y1="160.3" x2="372.6" y2="160.3" stroke="#888" stroke-width="1"/>
<line x1="612.1" y1="160.3" x2="617.4" y2="160.3" stroke="#888" stroke-width="1"/>
<text x="362.5" y="163.9" font-size="10" text-anchor="end" fill="#272727" font-family="Liberation Sans, sans-serif">1/3</text>
<line x1="381.2" y1="160.3" x2="609.9" y2="160.3" stroke="#c4c4c4" stroke-width="1" stroke-dasharray="3.6 2.1"/>
<line x1="367.3" y1="190.7" x2="372.6" y2="190.7" stroke="#888" stroke-width="1"/>
<line x1="612.1" y1="190.7" x2="617.4" y2="190.7" stroke="#888" stroke-width="1"/>
<text x="362.5" y="194.3" font-size="10" text-anchor="end" fill="#272727" font-family="Liberation Sans, sans-serif">1/10</text>
<line x1="381.2" y1="190.7" x2="609.9" y2="190.7" stroke="#c4c4c4" stroke-width="1" stroke-dasharray="3.6 2.1"/>
<line x1="367.3" y1="218.5" x2="372.6" y2="218.5" stroke="#888" stroke-width="1"/>
<line x1="612.1" y1="218.5" x2="617.4" y2="218.5" stroke="#888" stroke-width="1"/>
<text x="362.5" y="222.1" font-size="10" text-anchor="end" fill="#272727" font-family="Liberation Sans, sans-serif">1/30</text>
<line x1="381.2" y1="218.5" x2="609.9" y2="218.5" stroke="#c4c4c4" stroke-width="1" stroke-dasharray="3.6 2.1"/>
<text x="617.3" y="92.7" font-size="10.4" fill="#272727" font-family="Liberation Sans, sans-serif">Moderate</text>
<text x="617.3" y="121.8" font-size="10.4" fill="#272727" font-family="Liberation Sans, sans-serif">Anecdotal</text>
<text x="617.3" y="149.6" font-size="10.4" fill="#272727" font-family="Liberation Sans, sans-serif">Anecdotal</text>
<text x="617.3" y="178.7" font-size="10.4" fill="#272727" font-family="Liberation Sans, sans-serif">Moderate</text>
<text x="617.3" y="207.8" font-size="10.4" fill="#272727" font-family="Liberation Sans, sans-serif">Strong</text>
<text transform="translate(670.6,146.4) rotate(90)" font-size="13.8" text-anchor="middle" fill="#272727" font-family="Liberation Sans, sans-serif">Evidence</text>
<text transform="translate(335.7,146.2) rotate(-90)" font-size="12.3" text-anchor="middle" fill="#272727" font-family="Liberation Sans, sans-serif">BF<tspan font-size="9" dy="2.6">10</tspan></text>
<line x1="381.7" y1="224.9" x2="609.2" y2="224.9" stroke="#555" stroke-width="1"/>
<line x1="381.7" y1="224.9" x2="381.7" y2="229.9" stroke="#555" stroke-width="1"/>
<text x="381.7" y="243.9" font-size="10" text-anchor="middle" fill="#272727" font-family="Liberation Sans, sans-serif">0</text>
<line x1="438.6" y1="224.9" x2="438.6" y2="229.9" stroke="#555" stroke-width="1"/>
<text x="438.6" y="243.9" font-size="10" text-anchor="middle" fill="#272727" font-family="Liberation Sans, sans-serif">500</text>
<line x1="495.5" y1="224.9" x2="495.5" y2="229.9" stroke="#555" stroke-width="1"/>
<text x="495.5" y="243.9" font-size="10" text-anchor="middle" fill="#272727" font-family="Liberation Sans, sans-serif">1000</text>
<line x1="552.3" y1="224.9" x2="552.3" y2="229.9" stroke="#555" stroke-width="1"/>
<text x="552.3" y="243.9" font-size="10" text-anchor="middle" fill="#272727" font-family="Liberation Sans, sans-serif">1500</text>
<line x1="609.2" y1="224.9" x2="609.2" y2="229.9" stroke="#555" stroke-width="1"/>
<text x="609.2" y="243.9" font-size="10" text-anchor="middle" fill="#272727" font-family="Liberation Sans, sans-serif">2000</text>
<text x="495.5" y="259.0" font-size="14" text-anchor="middle" fill="#272727" font-family="Liberation Sans, sans-serif">n</text>
<path d="M397 97.2V81.9M394.0 86.2L397 81.9L400.0 86.2" stroke="#222" stroke-width="1.1" fill="none"/>
<text x="404.6" y="93.2" font-size="10.35" fill="#272727" font-family="Liberation Sans, sans-serif">Evidence for H1</text>
<path d="M397 196.9V212.2M394.0 207.9L397 212.2L400.0 207.9" stroke="#222" stroke-width="1.1" fill="none"/>
<text x="404.6" y="208.4" font-size="10.35" fill="#272727" font-family="Liberation Sans, sans-serif">Evidence for H0</text>
<path d="M381.7 132.5L382.2 149.4L383.0 128.5L383.4 150.2L384.2 155.4L385.0 161.1L385.9 161.1L386.6 146.9L387.0 152.6L387.9 133.3L388.7 144.5L389.5 144.6L390.3 143.7L391.3 132.7L392.3 122.0L393.0 146.1L394.0 147.1L395.1 148.6L396.2 147.8L397.1 152.1L398.0 158.2L399.1 173.5L399.9 160.0L400.7 146.9L401.5 171.0L402.3 172.8L403.1 172.7L403.9 174.1L404.7 175.7L405.5 175.9L406.3 176.6L407.1 177.3L407.9 177.5L408.7 179.2L409.5 180.7L410.7 188.7L411.5 187.2L412.3 188.7L413.6 179.1L414.4 180.7L415.2 171.0L416.4 165.4L417.2 165.4L418.1 163.8L418.9 155.8L420.0 163.0L420.8 161.1L421.6 158.2L422.4 153.0L423.2 146.9L424.0 144.2L424.8 144.5L425.6 138.1L426.4 134.9L427.2 143.7L428.5 159.8L429.5 159.8L430.4 161.4L431.2 158.6L432.0 156.6L433.2 163.0L434.4 179.1L435.7 169.4L436.8 179.1L437.7 173.3L438.5 167.0L439.6 180.7L440.9 185.5L442.1 186.3L443.3 183.9L444.4 174.3L445.2 180.7L446.2 175.8L447.3 171.0L448.1 169.9L448.9 167.3L449.7 166.2L450.0 165.4L450.8 163.7L451.6 161.4L452.4 159.4L453.2 156.6L454.0 155.2L454.8 155.0L455.6 155.3L456.4 152.6L457.7 144.5L458.8 142.9L459.6 142.6L460.4 141.3L461.6 140.5L462.9 143.7L463.7 142.1L464.5 146.4L465.3 148.6L466.1 150.0L466.9 152.6L468.0 146.9L469.0 142.9L470.1 149.4L471.2 153.4L472.5 150.2L473.8 152.6L474.9 148.6L475.7 147.8L477.0 153.4L478.1 144.5L479.2 138.9L480.2 150.2L481.3 148.6L482.4 152.6L483.7 146.1L485.0 141.3L486.1 148.6L487.3 146.9L488.2 155.8L489.4 152.6L490.2 153.9L491.0 156.6L491.8 158.7L492.6 161.4L493.4 161.7L494.2 162.2L495.0 160.8L495.8 158.2L496.9 152.6L498.2 151.0L499.5 153.4L500.6 148.6L501.7 138.9L502.7 150.2L503.8 156.6L504.9 151.8L505.9 156.6L506.5 134.9L507.5 164.6L508.6 151.8L509.8 158.2L510.6 138.9L511.4 161.4L512.3 151.8L513.1 158.2L514.3 167.8L515.2 172.7L515.9 177.5L516.7 169.4L517.8 167.0L519.1 165.4L520.4 159.8L521.5 156.6L522.3 147.8L523.1 158.2L523.9 156.6L524.7 164.6L525.5 150.2L526.3 143.7L525.0 155.0L525.6 147.5L526.2 143.8L526.9 147.5L527.8 142.5L528.8 137.5L529.8 136.9L530.6 130.0L531.5 125.0L532.2 123.8L533.1 122.5L533.5 132.5L534.0 143.8L534.8 150.0L535.6 157.5L536.2 147.5L536.9 152.5L537.5 160.0L538.1 163.8L538.8 158.8L539.8 155.0L540.6 152.5L541.5 150.0L542.5 150.0L543.5 145.0L544.0 136.2L544.8 130.0L545.6 126.2L546.2 123.8L546.9 120.0L547.5 126.2L548.1 118.8L549.0 116.2L550.0 115.6L550.6 116.2L551.2 121.9L551.9 120.0L552.5 123.1L553.5 121.9L554.0 128.8L554.8 132.5L555.6 130.0L556.0 135.0L556.9 135.6L557.5 138.8L558.1 142.5" stroke="#1a1a1a" stroke-width="1.9" fill="none" stroke-linejoin="round"/>
<text x="323.7" y="302.1" font-size="16" font-weight="bold" fill="#111" font-family="Liberation Sans, sans-serif">D</text>
<text x="379.8" y="321.6" font-size="11.6" fill="#272727" font-family="Liberation Sans, sans-serif">BF</text>
<text x="395.5" y="323.6" font-size="8.8" fill="#272727" font-family="Liberation Sans, sans-serif">10</text>
<text x="407.5" y="321.6" font-size="11.2" fill="#666" font-family="Liberation Sans, sans-serif">=</text>
<text x="416.9" y="321.6" font-size="12.1" fill="#272727" font-family="Liberation Sans, sans-serif">0.085</text>
<text x="379.8" y="337.9" font-size="11.6" fill="#272727" font-family="Liberation Sans, sans-serif">BF</text>
<text x="395.5" y="339.9" font-size="8.8" fill="#272727" font-family="Liberation Sans, sans-serif">01</text>
<text x="407.5" y="337.9" font-size="11.2" fill="#666" font-family="Liberation Sans, sans-serif">=</text>
<text x="416.9" y="337.9" font-size="12.1" fill="#272727" font-family="Liberation Sans, sans-serif">11.791</text>
<circle cx="479.9" cy="325.90" r="15.3" fill="#fff" stroke="#222" stroke-width="1.1"/>
<path d="M479.9 325.90L476.17 311.06A15.3 15.3 0 0 1 483.63 311.06Z" fill="#b32225" stroke="#222" stroke-width="1.1" stroke-linejoin="round"/>
<text x="479.9" y="305.6" font-size="9.2" text-anchor="middle" fill="#272727" font-family="Liberation Sans, sans-serif">data|H1</text>
<text x="479.9" y="350.8" font-size="9.2" text-anchor="middle" fill="#272727" font-family="Liberation Sans, sans-serif">data|H0</text>
<text x="611.3" y="322.6" font-size="12.2" text-anchor="end" fill="#272727" font-family="Liberation Sans, sans-serif">Evidence for H0:</text>
<text x="611.3" y="337.0" font-size="12.0" text-anchor="end" fill="#272727" font-family="Liberation Sans, sans-serif">Strong</text>
<line x1="373.1" y1="361.7" x2="373.1" y2="504.1" stroke="#555" stroke-width="1"/>
<line x1="611.4" y1="361.7" x2="611.4" y2="504.1" stroke="#555" stroke-width="1"/>
<line x1="367.8" y1="361.7" x2="373.1" y2="361.7" stroke="#888" stroke-width="1"/>
<line x1="611.4" y1="361.7" x2="616.7" y2="361.7" stroke="#888" stroke-width="1"/>
<text x="363.0" y="365.3" font-size="10" text-anchor="end" fill="#272727" font-family="Liberation Sans, sans-serif">30</text>
<line x1="381.5" y1="361.7" x2="609.2" y2="361.7" stroke="#c4c4c4" stroke-width="1" stroke-dasharray="3.6 2.1"/>
<line x1="367.8" y1="381.2" x2="373.1" y2="381.2" stroke="#888" stroke-width="1"/>
<line x1="611.4" y1="381.2" x2="616.7" y2="381.2" stroke="#888" stroke-width="1"/>
<text x="363.0" y="384.9" font-size="10" text-anchor="end" fill="#272727" font-family="Liberation Sans, sans-serif">10</text>
<line x1="381.5" y1="381.2" x2="609.2" y2="381.2" stroke="#c4c4c4" stroke-width="1" stroke-dasharray="3.6 2.1"/>
<line x1="367.8" y1="402.7" x2="373.1" y2="402.7" stroke="#888" stroke-width="1"/>
<line x1="611.4" y1="402.7" x2="616.7" y2="402.7" stroke="#888" stroke-width="1"/>
<text x="363.0" y="406.3" font-size="10" text-anchor="end" fill="#272727" font-family="Liberation Sans, sans-serif">3</text>
<line x1="381.5" y1="402.7" x2="609.2" y2="402.7" stroke="#c4c4c4" stroke-width="1" stroke-dasharray="3.6 2.1"/>
<line x1="367.8" y1="422.2" x2="373.1" y2="422.2" stroke="#888" stroke-width="1"/>
<line x1="611.4" y1="422.2" x2="616.7" y2="422.2" stroke="#888" stroke-width="1"/>
<text x="363.0" y="425.8" font-size="10" text-anchor="end" fill="#272727" font-family="Liberation Sans, sans-serif">1</text>
<line x1="381.8" y1="422.20" x2="608.8" y2="422.20" stroke="#5e5e5e" stroke-width="1.8"/>
<line x1="367.8" y1="441.7" x2="373.1" y2="441.7" stroke="#888" stroke-width="1"/>
<line x1="611.4" y1="441.7" x2="616.7" y2="441.7" stroke="#888" stroke-width="1"/>
<text x="363.0" y="445.3" font-size="10" text-anchor="end" fill="#272727" font-family="Liberation Sans, sans-serif">1/3</text>
<line x1="381.5" y1="441.7" x2="609.2" y2="441.7" stroke="#c4c4c4" stroke-width="1" stroke-dasharray="3.6 2.1"/>
<line x1="367.8" y1="463.1" x2="373.1" y2="463.1" stroke="#888" stroke-width="1"/>
<line x1="611.4" y1="463.1" x2="616.7" y2="463.1" stroke="#888" stroke-width="1"/>
<text x="363.0" y="466.8" font-size="10" text-anchor="end" fill="#272727" font-family="Liberation Sans, sans-serif">1/10</text>
<line x1="381.5" y1="463.1" x2="609.2" y2="463.1" stroke="#c4c4c4" stroke-width="1" stroke-dasharray="3.6 2.1"/>
<line x1="367.8" y1="482.7" x2="373.1" y2="482.7" stroke="#888" stroke-width="1"/>
<line x1="611.4" y1="482.7" x2="616.7" y2="482.7" stroke="#888" stroke-width="1"/>
<text x="363.0" y="486.3" font-size="10" text-anchor="end" fill="#272727" font-family="Liberation Sans, sans-serif">1/30</text>
<line x1="381.5" y1="482.7" x2="609.2" y2="482.7" stroke="#c4c4c4" stroke-width="1" stroke-dasharray="3.6 2.1"/>
<line x1="367.8" y1="504.1" x2="373.1" y2="504.1" stroke="#888" stroke-width="1"/>
<line x1="611.4" y1="504.1" x2="616.7" y2="504.1" stroke="#888" stroke-width="1"/>
<text x="363.0" y="507.7" font-size="10" text-anchor="end" fill="#272727" font-family="Liberation Sans, sans-serif">1/100</text>
<line x1="381.5" y1="504.1" x2="609.2" y2="504.1" stroke="#c4c4c4" stroke-width="1" stroke-dasharray="3.6 2.1"/>
<text x="616.7" y="373.7" font-size="10.4" fill="#272727" font-family="Liberation Sans, sans-serif">Strong</text>
<text x="616.7" y="394.2" font-size="10.4" fill="#272727" font-family="Liberation Sans, sans-serif">Moderate</text>
<text x="616.7" y="414.6" font-size="10.4" fill="#272727" font-family="Liberation Sans, sans-serif">Anecdotal</text>
<text x="616.7" y="434.2" font-size="10.4" fill="#272727" font-family="Liberation Sans, sans-serif">Anecdotal</text>
<text x="616.7" y="454.6" font-size="10.4" fill="#272727" font-family="Liberation Sans, sans-serif">Moderate</text>
<text x="616.7" y="475.1" font-size="10.4" fill="#272727" font-family="Liberation Sans, sans-serif">Strong</text>
<text x="616.7" y="495.6" font-size="10.4" fill="#272727" font-family="Liberation Sans, sans-serif">Very strong</text>
<text transform="translate(669.4,432.9) rotate(90)" font-size="13.8" text-anchor="middle" fill="#272727" font-family="Liberation Sans, sans-serif">Evidence</text>
<text transform="translate(335.7,432.7) rotate(-90)" font-size="12.3" text-anchor="middle" fill="#272727" font-family="Liberation Sans, sans-serif">BF<tspan font-size="9" dy="2.6">10</tspan></text>
<line x1="382.0" y1="510.5" x2="608.3" y2="510.5" stroke="#555" stroke-width="1"/>
<line x1="382.0" y1="510.5" x2="382.0" y2="515.5" stroke="#555" stroke-width="1"/>
<text x="382.0" y="529.5" font-size="10" text-anchor="middle" fill="#272727" font-family="Liberation Sans, sans-serif">0</text>
<line x1="438.6" y1="510.5" x2="438.6" y2="515.5" stroke="#555" stroke-width="1"/>
<text x="438.6" y="529.5" font-size="10" text-anchor="middle" fill="#272727" font-family="Liberation Sans, sans-serif">500</text>
<line x1="495.1" y1="510.5" x2="495.1" y2="515.5" stroke="#555" stroke-width="1"/>
<text x="495.1" y="529.5" font-size="10" text-anchor="middle" fill="#272727" font-family="Liberation Sans, sans-serif">1000</text>
<line x1="551.7" y1="510.5" x2="551.7" y2="515.5" stroke="#555" stroke-width="1"/>
<text x="551.7" y="529.5" font-size="10" text-anchor="middle" fill="#272727" font-family="Liberation Sans, sans-serif">1500</text>
<line x1="608.3" y1="510.5" x2="608.3" y2="515.5" stroke="#555" stroke-width="1"/>
<text x="608.3" y="529.5" font-size="10" text-anchor="middle" fill="#272727" font-family="Liberation Sans, sans-serif">2000</text>
<text x="495.1" y="544.6" font-size="14" text-anchor="middle" fill="#272727" font-family="Liberation Sans, sans-serif">n</text>
<path d="M397 377.1V365.8M394.0 370.1L397 365.8L400.0 370.1" stroke="#222" stroke-width="1.1" fill="none"/>
<text x="404.6" y="375.2" font-size="10.35" fill="#272727" font-family="Liberation Sans, sans-serif">Evidence for H1</text>
<path d="M397 487.7V499.1M394.0 494.8L397 499.1L400.0 494.8" stroke="#222" stroke-width="1.1" fill="none"/>
<text x="404.6" y="497.2" font-size="10.35" fill="#272727" font-family="Liberation Sans, sans-serif">Evidence for H0</text>
<path d="M382.1 421.9L382.5 427.5L382.9 438.8L383.4 426.2L383.8 440.0L384.8 443.8L385.6 446.9L386.5 441.2L387.1 442.5L387.9 428.1L388.5 440.0L389.0 436.9L389.8 440.6L390.6 442.5L391.5 447.5L392.5 451.2L393.1 437.5L393.8 446.2L394.4 443.8L395.0 445.6L395.6 441.9L396.5 443.1L397.5 450.0L398.1 458.8L399.0 457.5L400.0 458.8L400.6 458.1L401.2 451.2L401.6 460.6L402.5 461.2L403.5 460.0L404.4 463.8L405.0 460.0L406.0 462.5L406.9 460.6L407.8 463.8L408.8 463.1L410.0 465.0L411.2 466.9L412.2 467.5L413.1 463.8L414.4 462.5L415.6 457.5L416.5 454.4L417.5 455.0L418.1 452.5L419.0 449.4L419.8 453.1L420.6 456.2L421.5 458.8L422.5 456.2L423.5 450.0L424.4 445.6L425.2 444.4L426.2 445.6L427.2 447.5L427.8 453.1L428.8 453.8L430.0 454.4L431.2 455.6L432.2 455.0L432.9 457.5L433.5 463.1L434.4 455.0L435.2 458.1L436.0 453.8L436.9 458.8L437.5 463.8L438.4 455.0L439.0 450.6L439.8 450.0L440.6 451.9L441.5 452.5L442.5 454.4L443.5 456.9L444.1 447.5L444.8 440.0L445.4 439.4L446.0 446.9L446.9 443.8L447.5 437.5L448.1 432.5L448.8 431.2L449.8 428.8L450.6 423.8L451.2 429.4L451.9 433.8L452.5 428.1L453.5 430.0L454.4 428.1L455.2 431.9L456.2 438.8L456.9 433.8L457.8 430.6L458.5 435.0L459.4 433.1L460.6 433.8L461.9 435.6L462.8 435.0L463.5 437.5L464.4 435.0L465.0 439.4L466.0 436.9L466.9 431.9L467.8 432.5L468.8 430.0L469.8 427.5L470.6 429.4L471.5 431.2L472.5 435.0L473.4 433.8L474.0 417.5L474.8 413.1L475.4 417.5L476.2 416.9L476.9 418.8L477.5 416.2L478.5 413.8L479.1 410.0L479.8 406.9L480.4 410.0L481.2 408.1L481.9 404.4L482.5 400.0L483.1 399.4L483.8 412.5L484.4 416.9L485.2 418.1L485.9 423.8L486.9 427.5L487.8 426.9L488.8 428.1L489.8 429.4L490.6 431.2L491.2 434.4L492.2 432.5L493.1 433.8L494.0 433.1L495.0 431.9L496.0 428.8L496.5 426.2L497.2 426.9L497.9 428.1L498.5 422.5L499.1 420.0L500.0 421.2L500.6 425.0L501.2 435.0L501.0 435.0L501.5 443.8L502.2 450.0L503.1 452.5L504.0 453.8L505.0 456.2L505.6 452.5L506.2 458.1L506.9 452.5L507.5 455.0L508.1 458.1L508.8 462.5L509.4 460.6L510.0 465.0L510.6 467.5L511.2 471.2L512.2 472.3L513.1 473.9L513.8 476.8L514.6 478.5L515.8 480.3L516.6 480.9L517.5 480.6L518.4 480.6L519.3 480.9L520.1 480.9L521.0 481.5L521.9 480.8L522.8 481.8L523.6 481.4L524.5 481.5L525.2 481.9L525.9 480.3L527.1 479.7L527.9 479.8L528.6 479.1L529.4 479.8L530.1 478.5L530.8 478.1L531.5 477.1L532.5 475.6L533.3 474.5L534.1 473.9L535.0 474.5L536.2 472.7L537.1 470.4L538.0 466.9L538.8 462.8L539.5 459.9L540.3 459.9L541.1 460.4L542.0 460.4L543.0 460.4L543.8 463.4L544.4 467.4L545.3 469.2L546.1 469.8L546.9 470.1L547.9 468.6L548.8 467.4L549.6 468.0L550.5 468.6L551.4 466.9L552.3 466.3L553.1 465.1L554.0 466.3L554.9 466.9L555.8 468.0L556.6 467.4L557.2 466.3L558.0 465.7" stroke="#1a1a1a" stroke-width="1.9" fill="none" stroke-linejoin="round"/>
</svg></body></html>
